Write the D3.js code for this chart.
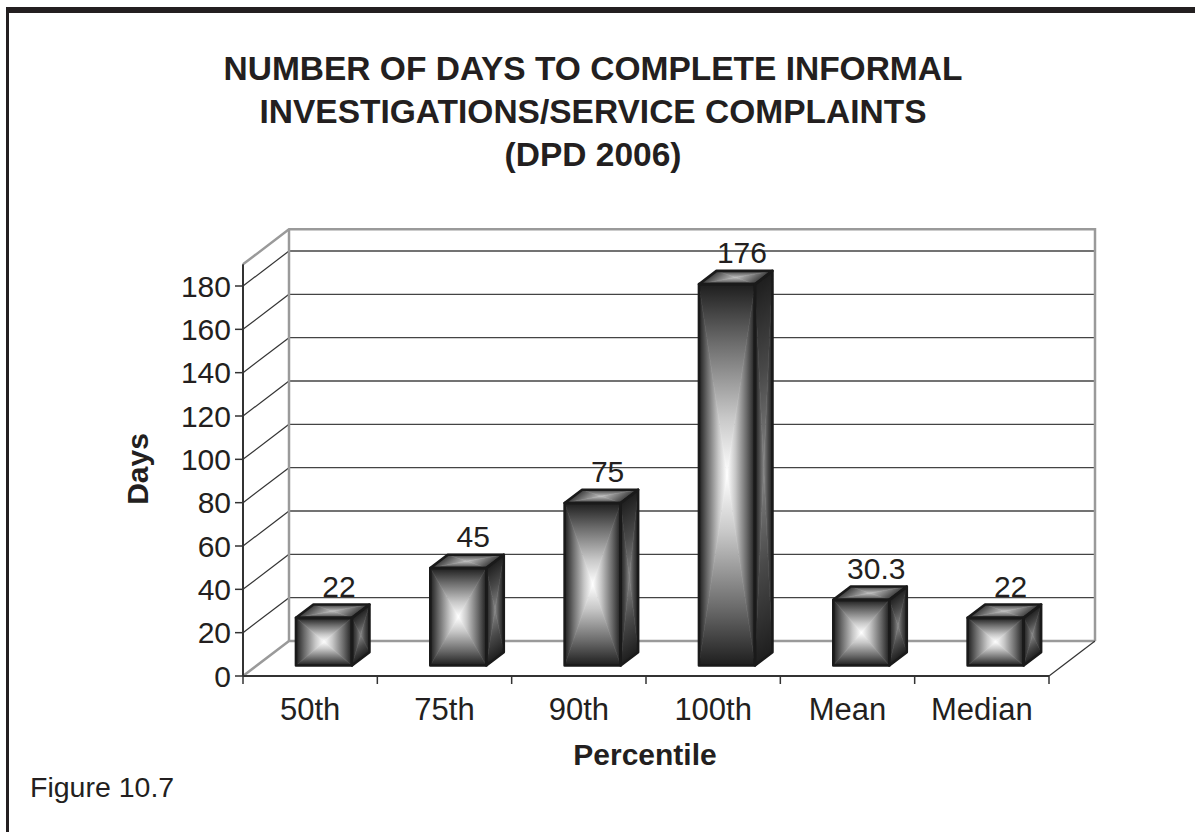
<!DOCTYPE html>
<html>
<head>
<meta charset="utf-8">
<script src="https://cdn.jsdelivr.net/npm/d3@7"></script>
<style>
  body { margin: 0; background: #fff; }
  svg { display: block; font-family: "Liberation Sans", Arial, sans-serif; }
</style>
</head>
<body>
<svg id="chart" width="1195" height="832"></svg>
<script>
// data
var categories = ['50th', '75th', '90th', '100th', 'Mean', 'Median'];
var values = [22, 45, 75, 176, 30.3, 22];
var valueLabels = ['22', '45', '75', '176', '30.3', '22'];
var yTicks = [0, 20, 40, 60, 80, 100, 120, 140, 160, 180];
var titleLines = ['NUMBER OF DAYS TO COMPLETE INFORMAL', 'INVESTIGATIONS/SERVICE COMPLAINTS', '(DPD 2006)'];

var svg = d3.select('#chart');
var defs = svg.append('defs');

// 3d layout
var DX = 46, DY = 35;          // floor depth
var f1 = 0.3, f2 = 0.68;       // bar front/back depth fraction
var wallTop = 190;

var x = d3.scaleBand().domain(categories).range([243, 1049]);
var y = d3.scaleLinear().domain([0, 180]).range([676, 286]);

// frame
svg.append('rect').attr('x', 6).attr('y', 7).attr('width', 1189).attr('height', 6).attr('fill', '#231f20');
svg.append('rect').attr('x', 6).attr('y', 7).attr('width', 3).attr('height', 825).attr('fill', '#231f20');

// title
svg.append('g').selectAll('text')
  .data(titleLines)
  .enter()
  .append('text')
  .attr('x', 593)
  .attr('y', function(d, i) { return 80 + i * 43; })
  .attr('text-anchor', 'middle')
  .attr('font-size', 33.5)
  .attr('font-weight', 'bold')
  .attr('fill', '#231f20')
  .text(function(d) { return d; });

var x0 = x.range()[0], x1 = x.range()[1];
var wallColor = '#9a9a9a';

// gridlines: left wall diagonals + back wall
var grid = svg.append('g');
grid.selectAll('.diag')
  .data(yTicks.slice(1))
  .enter()
  .append('path')
  .attr('d', function(d) { return 'M' + x0 + ',' + y(d) + 'L' + (x0 + DX) + ',' + (y(d) - DY); })
  .attr('stroke', '#333').attr('stroke-width', 1.2).attr('fill', 'none');
grid.selectAll('.back')
  .data(yTicks.slice(1))
  .enter()
  .append('path')
  .attr('d', function(d) { return 'M' + (x0 + DX) + ',' + (y(d) - DY) + 'L' + (x1 + DX) + ',' + (y(d) - DY); })
  .attr('stroke', '#444').attr('stroke-width', 1.3).attr('fill', 'none');

// walls outline
var walls = svg.append('g').attr('fill', 'none').attr('stroke', wallColor).attr('stroke-width', 2.5).attr('stroke-linejoin', 'miter');
walls.append('path').attr('d',
  'M' + x0 + ',' + y(wallTop) + 'L' + (x0 + DX) + ',' + (y(wallTop) - DY) +
  'L' + (x1 + DX) + ',' + (y(wallTop) - DY) + 'L' + (x1 + DX) + ',' + (y(0) - DY));
walls.append('path').attr('d', 'M' + (x0 + DX) + ',' + (y(wallTop) - DY) + 'L' + (x0 + DX) + ',' + (y(0) - DY));
walls.append('path').attr('d',
  'M' + x0 + ',' + y(0) + 'L' + (x0 + DX) + ',' + (y(0) - DY) + 'L' + (x1 + DX) + ',' + (y(0) - DY));
svg.append('path')
  .attr('d', 'M' + x1 + ',' + y(0) + 'L' + (x1 + DX) + ',' + (y(0) - DY))
  .attr('stroke', '#333').attr('stroke-width', 1.2).attr('fill', 'none');

// y axis
var yAxis = svg.append('g').attr('transform', 'translate(' + x0 + ',0)');
yAxis.append('path').attr('d', 'M0,' + y(wallTop) + 'V' + y(0)).attr('stroke', '#333').attr('stroke-width', 2);
yAxis.selectAll('.tick')
  .data(yTicks)
  .enter()
  .append('path')
  .attr('d', function(d) { return 'M-8,' + y(d) + 'H0'; })
  .attr('stroke', '#333').attr('stroke-width', 1.5);
yAxis.selectAll('text')
  .data(yTicks)
  .enter()
  .append('text')
  .attr('x', -12)
  .attr('y', function(d) { return y(d); })
  .attr('dy', '0.36em')
  .attr('text-anchor', 'end')
  .attr('font-size', 30)
  .attr('fill', '#231f20')
  .text(function(d) { return d; });

// x axis
var xAxis = svg.append('g');
xAxis.append('path').attr('d', 'M' + x0 + ',' + y(0) + 'H' + x1).attr('stroke', '#333').attr('stroke-width', 2);
var bounds = categories.map(function(c) { return x(c); }).concat([x1]);
xAxis.selectAll('.tick')
  .data(bounds)
  .enter()
  .append('path')
  .attr('d', function(d) { return 'M' + d + ',' + y(0) + 'V' + (y(0) + 8); })
  .attr('stroke', '#333').attr('stroke-width', 1.5);
xAxis.selectAll('text')
  .data(categories)
  .enter()
  .append('text')
  .attr('x', function(d) { return x(d) + x.bandwidth() / 2; })
  .attr('y', 720)
  .attr('text-anchor', 'middle')
  .attr('font-size', 31)
  .attr('fill', '#231f20')
  .text(function(d) { return d; });

// axis titles
svg.append('text')
  .attr('transform', 'translate(148,469) rotate(-90)')
  .attr('text-anchor', 'middle')
  .attr('font-size', 30).attr('font-weight', 'bold').attr('fill', '#231f20')
  .text('Days');
svg.append('text')
  .attr('x', 645).attr('y', 765)
  .attr('text-anchor', 'middle')
  .attr('font-size', 30).attr('font-weight', 'bold').attr('fill', '#231f20')
  .text('Percentile');
svg.append('text')
  .attr('x', 30).attr('y', 797)
  .attr('font-size', 28.5).attr('fill', '#231f20')
  .text('Figure 10.7');

// shaded face: split into 4 triangles meeting at centre, each with a gradient edge -> centre
var gid = 0;
function shadeFace(g, pts, stops) {
  var c = [d3.mean(pts, function(p) { return p[0]; }), d3.mean(pts, function(p) { return p[1]; })];
  for (var i = 0; i < pts.length; i++) {
    var a = pts[i], b = pts[(i + 1) % pts.length];
    // foot of perpendicular from centre to edge
    var ex = b[0] - a[0], ey = b[1] - a[1];
    var t = ((c[0] - a[0]) * ex + (c[1] - a[1]) * ey) / (ex * ex + ey * ey);
    var fx = a[0] + t * ex, fy = a[1] + t * ey;
    var id = 'g' + (gid++);
    var lg = defs.append('linearGradient').attr('id', id)
      .attr('gradientUnits', 'userSpaceOnUse')
      .attr('x1', fx).attr('y1', fy).attr('x2', c[0]).attr('y2', c[1]);
    stops.forEach(function(s) {
      lg.append('stop').attr('offset', s[0]).attr('stop-color', s[1]);
    });
    g.append('path')
      .attr('d', 'M' + a + 'L' + b + 'L' + c + 'Z')
      .attr('fill', 'url(#' + id + ')')
      .attr('stroke', 'url(#' + id + ')')
      .attr('stroke-width', 0.6);
  }
}

var frontStops = [[0, '#1e1e1e'], [0.3, '#6a6a6a'], [0.7, '#c8c8c8'], [1, '#ffffff']];
var topStops = [[0, '#3a3a3a'], [0.5, '#808080'], [1, '#bdbdbd']];
var sideStops = [[0, '#1e1e1e'], [0.5, '#4a4a4a'], [1, '#858585']];

var hw = 28;
var bars = svg.append('g');
categories.forEach(function(cat, i) {
  var v = values[i];
  var cx = x(cat) + x.bandwidth() / 2 + DX * f1;
  var yb = y(0) - DY * f1, yt = y(v) - DY * f1;
  var l = cx - hw, r = cx + hw;
  var ddx = DX * (f2 - f1), ddy = DY * (f2 - f1);
  var g = bars.append('g');
  var front = [[l, yt], [r, yt], [r, yb], [l, yb]];
  var top = [[l, yt], [l + ddx, yt - ddy], [r + ddx, yt - ddy], [r, yt]];
  var side = [[r, yt], [r + ddx, yt - ddy], [r + ddx, yb - ddy], [r, yb]];
  shadeFace(g, front, frontStops);
  shadeFace(g, top, topStops);
  shadeFace(g, side, sideStops);
  var outline = g.append('g').attr('fill', 'none').attr('stroke', '#1a1a1a')
    .attr('stroke-width', 2.6).attr('stroke-linejoin', 'round');
  [front, top, side].forEach(function(p) {
    outline.append('path').attr('d', 'M' + p.join('L') + 'Z');
  });
  svg.append('text')
    .attr('x', cx + 15)
    .attr('y', yt - ddy - 8)
    .attr('text-anchor', 'middle')
    .attr('font-size', 30)
    .attr('fill', '#231f20')
    .text(valueLabels[i]);
});
</script>
</body>
</html>
